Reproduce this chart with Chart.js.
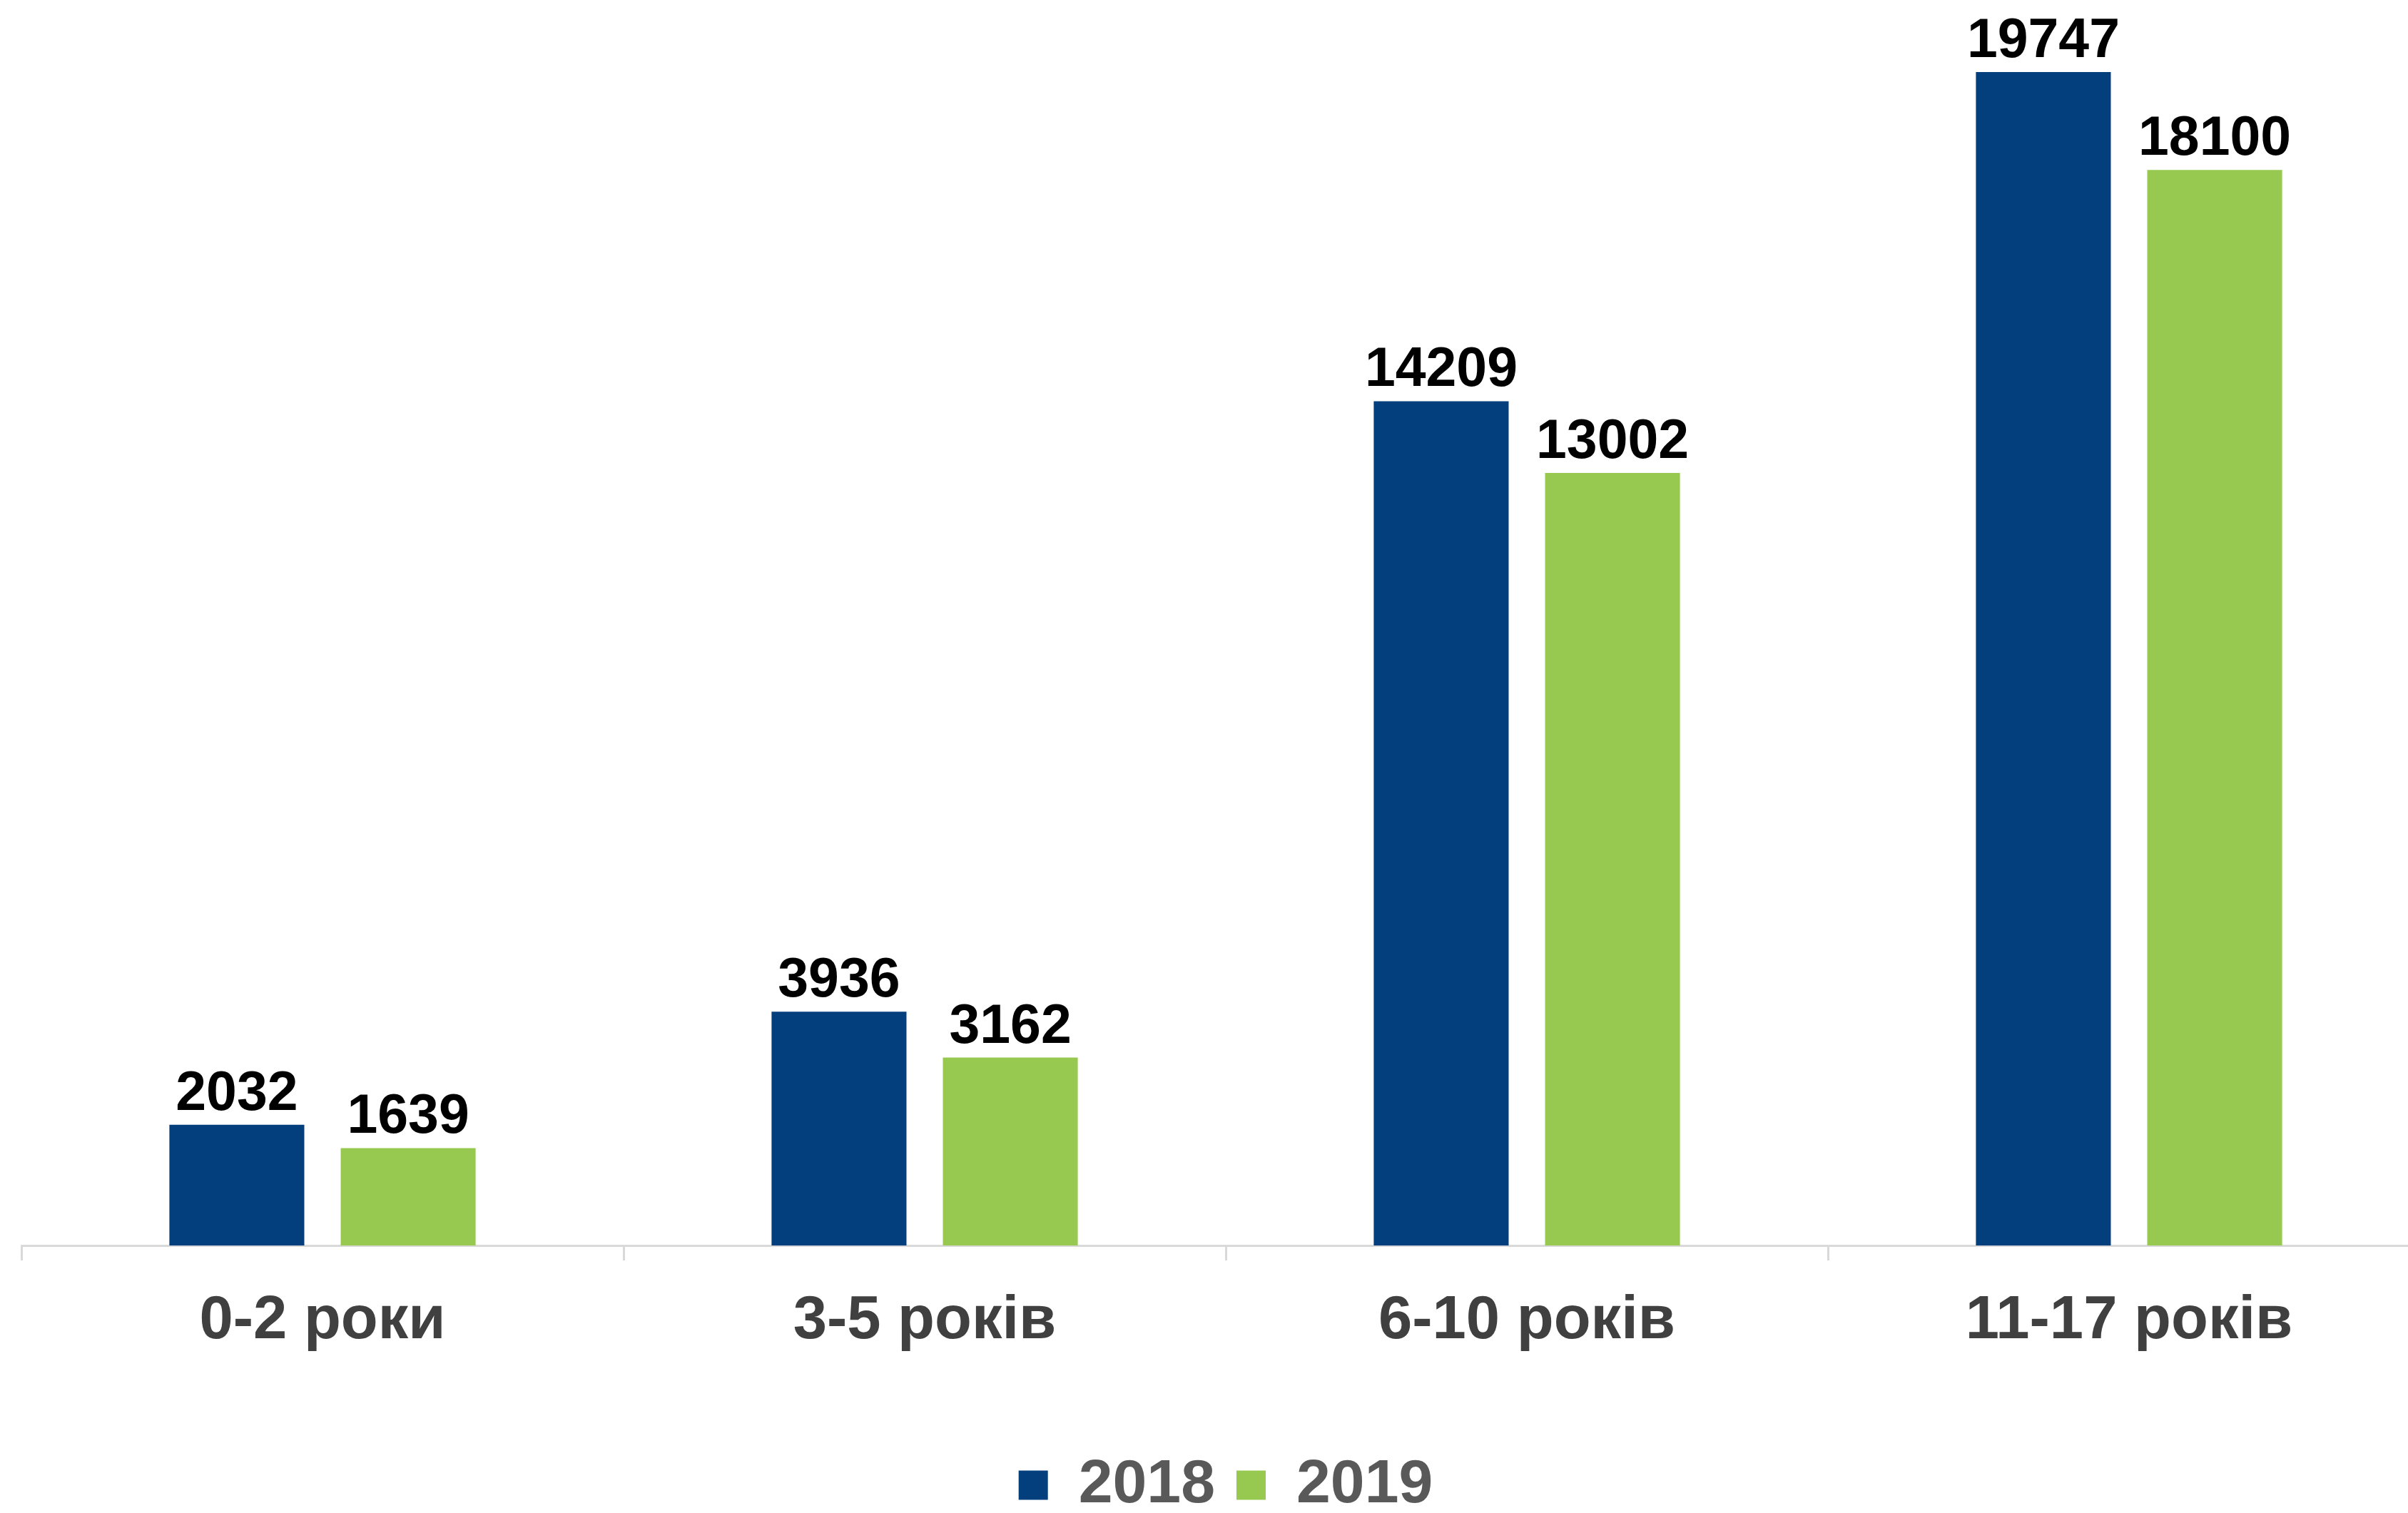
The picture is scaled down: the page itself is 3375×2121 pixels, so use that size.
<!DOCTYPE html>
<html>
<head>
<meta charset="utf-8">
<script src="https://cdn.jsdelivr.net/npm/chart.js@4"></script>
<style>
    html, body { margin: 0; padding: 0; background: #ffffff; overflow: hidden; }
    #wrap { width: 3406px; height: 2135px; }
</style>
</head>
<body>
<div id="wrap"><canvas id="ageChart"></canvas></div>
<script>
const categories = ['0-2 роки', '3-5 років', '6-10 років', '11-17 років'];
const values2018 = [2032, 3936, 14209, 19747];
const values2019 = [1639, 3162, 13002, 18100];
const seriesNames = ['2018', '2019'];

const FONT = "'Liberation Sans', Arial, sans-serif";

// value labels above each bar
const valueLabels = {
    id: 'valueLabels',
    afterDatasetsDraw(chart) {
        const ctx = chart.ctx;
        ctx.save();
        ctx.font = 'bold 77px ' + FONT;
        ctx.fillStyle = '#000000';
        ctx.textAlign = 'center';
        ctx.textBaseline = 'alphabetic';
        chart.data.datasets.forEach((ds, i) => {
            chart.getDatasetMeta(i).data.forEach((bar, j) => {
                ctx.fillText(String(ds.data[j]), bar.x, bar.y - 21);
            });
        });
        ctx.restore();
    }
};

window.onload = function() {
    const ctx = document.getElementById('ageChart').getContext('2d');
    new Chart(ctx, {
        type: 'bar',
        data: {
            labels: categories,
            datasets: [{
                label: seriesNames[0],
                data: values2018,
                backgroundColor: '#033E7D',
                categoryPercentage: 0.569,
                barPercentage: 0.7875
            }, {
                label: seriesNames[1],
                data: values2019,
                backgroundColor: '#97C950',
                categoryPercentage: 0.569,
                barPercentage: 0.7875
            }]
        },
        options: {
            responsive: true,
            maintainAspectRatio: false,
            animation: false,
            layout: {
                padding: { top: 80, left: 30, right: 0, bottom: 0 }
            },
            scales: {
                x: {
                    grid: {
                        offset: true,
                        drawOnChartArea: false,
                        color: '#d9d9d9',
                        lineWidth: 3,
                        tickLength: 21
                    },
                    border: { color: '#d9d9d9', width: 3 },
                    ticks: {
                        color: '#404040',
                        padding: 35,
                        font: { family: FONT, size: 85, weight: 'bold' }
                    },
                    afterFit(scale) {
                        scale.height = 263;
                    }
                },
                y: {
                    display: false,
                    beginAtZero: true,
                    min: 0,
                    max: 20000
                }
            },
            plugins: {
                legend: {
                    display: true,
                    position: 'bottom',
                    labels: {
                        boxWidth: 41,
                        boxHeight: 41,
                        padding: 30,
                        color: '#595959',
                        font: { family: FONT, size: 86, weight: 'bold' }
                    }
                },
                tooltip: { enabled: false }
            }
        },
        plugins: [valueLabels]
    });
};
</script>
</body>
</html>
